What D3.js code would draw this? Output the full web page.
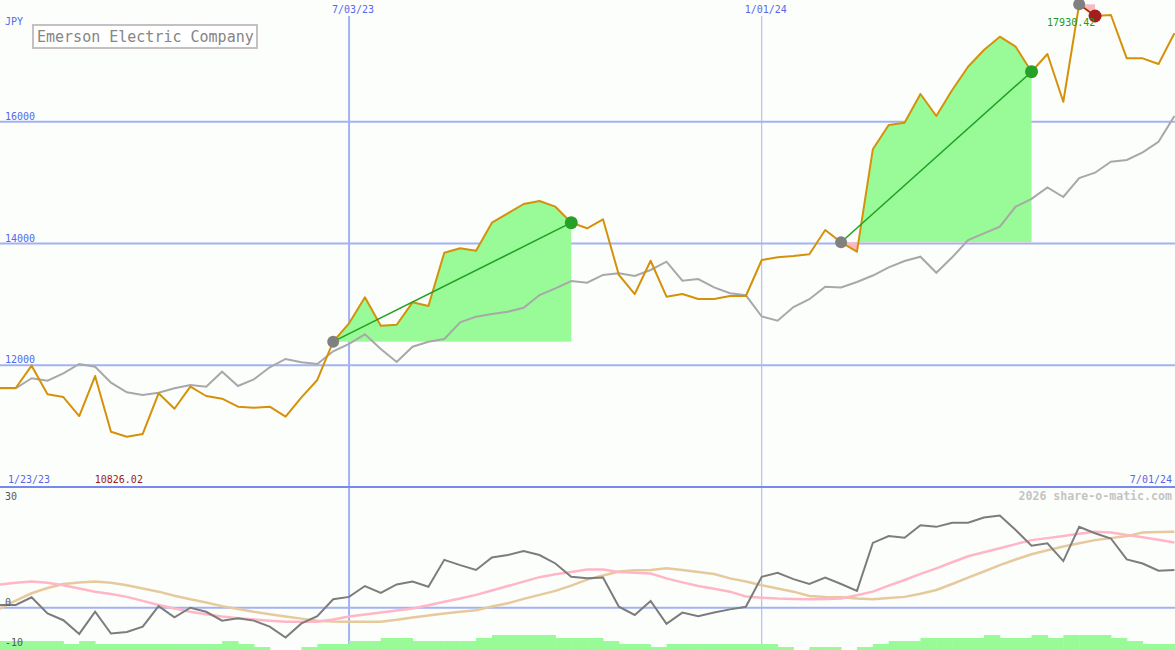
<!DOCTYPE html>
<html>
<head>
<meta charset="utf-8">
<script src="https://cdn.jsdelivr.net/npm/d3@7"></script>
<style>
  html, body { margin: 0; padding: 0; background: #fcfefc; }
  svg { display: block; }
  text { font-family: "DejaVu Sans Mono", "Liberation Mono", monospace; }
</style>
</head>
<body>
<div id="chart"></div>
<script>
// weekly closes, 1/23/23 .. 7/01/24
const startDate = new Date(2023, 0, 23);
const endDate = new Date(2024, 6, 1);
const gridDates = [new Date(2023, 6, 3), new Date(2024, 0, 1)];
const priceTicks = [12000, 14000, 16000];
const lowerTicks = [30, 0, -10];

const price = [
  11626, 11626, 11626, 11993, 11523, 11478, 11166, 11823, 10908, 10826.02,
  10871, 11539, 11286, 11648, 11495, 11451, 11319, 11303, 11319, 11155,
  11473, 11758, 12387, 12689, 13116, 12650, 12666, 13034, 12973, 13849,
  13921, 13882, 14342, 14496, 14649, 14698, 14605, 14342, 14250, 14398,
  13483, 13170, 13717, 13126, 13170, 13088, 13088, 13138, 13138, 13729,
  13773, 13795, 13823, 14222, 14020, 13865, 15547, 15947, 15984, 16456,
  16094, 16522, 16904, 17179, 17397, 17233, 16822, 17113, 16329, 17930.42,
  17737, 17754, 17042, 17042, 16949, 17453
];

const average = [
  11621, 11621, 11621, 11786, 11746, 11868, 12021, 11976, 11713, 11556,
  11511, 11549, 11621, 11676, 11648, 11894, 11659, 11769, 11966, 12103,
  12048, 12021, 12230, 12350, 12508, 12267, 12053, 12305, 12387, 12431,
  12706, 12798, 12842, 12880, 12945, 13154, 13264, 13384, 13356, 13483,
  13510, 13466, 13565, 13701, 13389, 13417, 13280, 13182, 13149, 12801,
  12732, 12957, 13085, 13290, 13277, 13368, 13474, 13609, 13713, 13783,
  13520, 13773, 14058, 14167, 14276, 14605, 14734, 14920, 14764, 15076,
  15163, 15344, 15372, 15498, 15672, 16095
];

const momentum = [
  0.7, 0.7, 0.7, 2.6, -1.4, -3.1, -6.5, -1.0, -6.4, -6.0,
  -4.7, 0.4, -2.4, 0, -1.0, -3.2, -2.6, -3.2, -4.7, -7.4,
  -3.9, -2.1, 2.1, 2.7, 5.4, 3.7, 5.8, 6.5, 5.2, 11.9,
  10.6, 9.4, 12.5, 13.1, 14.1, 13.1, 11.0, 7.7, 7.3, 7.5,
  0.25, -1.8, 1.7, -4.0, -1.2, -2.1, -1.2, -0.4, 0.25, 7.7,
  8.7, 7.1, 5.9, 7.5, 5.9, 4.2, 16.1, 17.8, 17.4, 20.5,
  20.1, 21.1, 21.1, 22.4, 22.9, 19.3, 15.4, 16.0, 11.6, 20.1,
  18.5, 17.2, 12.0, 11.0, 9.2, 9.4
];

const fastLine = [
  5.6, 5.8, 6.2, 6.5, 6.2, 5.6, 4.8, 4.0, 3.4, 2.7,
  1.7, 0.7, -0.2, -1.0, -1.6, -2.2, -2.6, -2.9, -3.2, -3.5,
  -3.5, -3.5, -2.9, -2.2, -1.7, -1.2, -0.7, -0.2, 0.6, 1.5,
  2.3, 3.2, 4.3, 5.4, 6.5, 7.6, 8.3, 8.9, 9.5, 9.5,
  8.9, 8.7, 8.5, 7.3, 6.3, 5.4, 4.7, 4.0, 2.8, 2.5,
  2.3, 2.2, 2.1, 2.2, 2.3, 3.1, 4.0, 5.5, 6.9, 8.4,
  9.8, 11.3, 12.8, 13.8, 14.8, 15.8, 16.8, 17.3, 17.8, 18.4,
  18.9, 18.7, 18.1, 17.5, 16.9, 16.2
];

const slowLine = [
  -1.5, -0.2, 1.8, 3.6, 4.9, 5.9, 6.3, 6.5, 6.2, 5.6,
  4.8, 4.0, 3.0, 2.1, 1.3, 0.4, -0.3, -1.0, -1.6, -2.2,
  -2.7, -3.2, -3.4, -3.5, -3.5, -3.5, -3.0, -2.4, -1.9, -1.4,
  -1.0, -0.6, 0.3, 1.1, 2.2, 3.2, 4.2, 5.5, 7.0, 8.0,
  9.0, 9.3, 9.4, 9.8, 9.4, 8.9, 8.4, 7.3, 6.5, 5.6,
  4.8, 4.0, 2.9, 2.7, 2.6, 2.3, 2.1, 2.4, 2.7, 3.5,
  4.4, 5.9, 7.5, 9.0, 10.6, 12.0, 13.3, 14.3, 15.2, 16.0,
  16.8, 17.3, 17.8, 18.7, 18.8, 18.9
];

// volume-ish strength bars, 0..5
const volume = [
  3, 3, 3, 3, 3, 2, 3, 2, 2, 2,
  2, 2, 2, 2, 2, 3, 2, 1, 0, 0,
  1, 2, 2, 3, 3, 4, 4, 3, 3, 3,
  3, 4, 5, 5, 5, 5, 4, 4, 4, 3,
  2, 2, 1, 2, 2, 2, 2, 2, 2, 2,
  1, 0, 1, 1, 0, 1, 2, 3, 3, 4,
  4, 4, 4, 5, 4, 4, 5, 4, 5, 5,
  5, 4, 3, 2, 2, 2
];

// entry index, exit index
const trades = [[22, 37], [54, 66], [69, 70]];

const W = 1175, H = 650;
const dates = d3.timeMonday.range(startDate, d3.timeDay.offset(endDate, 1));

const svg = d3.select("#chart").append("svg")
  .attr("width", W).attr("height", H);
svg.append("rect").attr("width", W).attr("height", H).attr("fill", "#fcfefc");
const defs = svg.append("defs");

const x = d3.scaleTime().domain([startDate, endDate]).range([-16, 1174.4]);
const y = d3.scaleLinear().domain([10000, 18000]).range([487, 0]);
const yl = d3.scaleLinear().domain([-10, 30]).range([648, 487]);
const yv = d3.scaleLinear().domain([0, 5]).range([650, 635]);
const step = x(dates[1]) - x(dates[0]);

const gridColor = "#a4b2f2";
const blue = "#5568ea";

// grid
svg.append("g").selectAll("line").data(priceTicks).join("line")
  .attr("x1", 0).attr("x2", W)
  .attr("y1", d => y(d)).attr("y2", d => y(d))
  .attr("stroke", gridColor).attr("stroke-width", 2);

svg.append("g").selectAll("line").data(gridDates).join("line")
  .attr("x1", d => x(d)).attr("x2", d => x(d))
  .attr("y1", 16).attr("y2", H)
  .attr("stroke", gridColor).attr("stroke-width", (d, i) => i == 0 ? 2 : 1);

svg.append("line")
  .attr("x1", 0).attr("x2", W).attr("y1", yl(0)).attr("y2", yl(0))
  .attr("stroke", gridColor).attr("stroke-width", 2);

svg.append("line")
  .attr("x1", 0).attr("x2", W).attr("y1", 487).attr("y2", 487)
  .attr("stroke", "#7888ec").attr("stroke-width", 2);

// trade fills: green above entry, pink below
trades.forEach((t, k) => {
  const seg = d3.range(t[0], t[1] + 1);
  const base = y(price[t[0]]);
  const area = d3.area()
    .x(i => x(dates[i]))
    .y0(base)
    .y1(i => y(price[i]));
  defs.append("clipPath").attr("id", "up" + k).append("rect")
    .attr("x", 0).attr("y", -20).attr("width", W).attr("height", base + 20);
  defs.append("clipPath").attr("id", "dn" + k).append("rect")
    .attr("x", 0).attr("y", base).attr("width", W).attr("height", 487 - base);
  svg.append("path").datum(seg).attr("d", area)
    .attr("fill", "#98fb98").attr("clip-path", "url(#up" + k + ")");
  svg.append("path").datum(seg).attr("d", area)
    .attr("fill", "#ffb6c1").attr("clip-path", "url(#dn" + k + ")");
});

const line = d3.line().x((d, i) => x(dates[i]));

svg.append("path").datum(average)
  .attr("d", line.y(d => y(d)))
  .attr("fill", "none").attr("stroke", "#a8a8a8").attr("stroke-width", 2);

svg.append("path").datum(price)
  .attr("d", line.y(d => y(d)))
  .attr("fill", "none").attr("stroke", "#d5910a").attr("stroke-width", 2)
  .attr("stroke-linejoin", "round");

// trade lines and markers
trades.forEach(t => {
  const win = price[t[1]] >= price[t[0]];
  svg.append("line")
    .attr("x1", x(dates[t[0]])).attr("y1", y(price[t[0]]))
    .attr("x2", x(dates[t[1]])).attr("y2", y(price[t[1]]))
    .attr("stroke", win ? "#20a020" : "#a01c1c").attr("stroke-width", 1.5);
});
trades.forEach(t => {
  const win = price[t[1]] >= price[t[0]];
  svg.append("circle")
    .attr("cx", x(dates[t[0]])).attr("cy", y(price[t[0]])).attr("r", 6)
    .attr("fill", "#808080");
  svg.append("circle")
    .attr("cx", x(dates[t[1]])).attr("cy", y(price[t[1]])).attr("r", 6.5)
    .attr("fill", win ? "#26a026" : "#a41e1e");
});

// lower panel
svg.append("g").selectAll("rect").data(volume).join("rect")
  .attr("x", (d, i) => x(dates[i]))
  .attr("width", step + 0.5)
  .attr("y", d => yv(d))
  .attr("height", d => H - yv(d))
  .attr("fill", "#98fb98");

svg.append("path").datum(slowLine)
  .attr("d", line.y(d => yl(d)))
  .attr("fill", "none").attr("stroke", "#e6c99c").attr("stroke-width", 2.5);

svg.append("path").datum(fastLine)
  .attr("d", line.y(d => yl(d)))
  .attr("fill", "none").attr("stroke", "#ffb6c6").attr("stroke-width", 2.5);

svg.append("path").datum(momentum)
  .attr("d", line.y(d => yl(d)))
  .attr("fill", "none").attr("stroke", "#7c7c7c").attr("stroke-width", 2);

// labels
svg.append("text").attr("x", 5).attr("y", 25).attr("font-size", 10)
  .attr("fill", blue).text("JPY");

svg.append("g").selectAll("text").data(priceTicks).join("text")
  .attr("x", 5).attr("y", d => y(d) - 2).attr("font-size", 10)
  .attr("fill", blue).text(d => d);

svg.append("g").selectAll("text").data(gridDates).join("text")
  .attr("x", d => x(d) + 4).attr("y", 13).attr("font-size", 10)
  .attr("text-anchor", "middle").attr("fill", blue)
  .text(d => d3.timeFormat("%-m/%d/%y")(d));

svg.append("text").attr("x", 8).attr("y", 483).attr("font-size", 10)
  .attr("fill", blue).text(d3.timeFormat("%-m/%d/%y")(startDate));
svg.append("text").attr("x", 1172).attr("y", 483).attr("font-size", 10)
  .attr("text-anchor", "end").attr("fill", blue)
  .text(d3.timeFormat("%-m/%d/%y")(endDate));

svg.append("g").selectAll("text").data(lowerTicks).join("text")
  .attr("x", 5).attr("y", d => d == 30 ? 500 : yl(d) - 2).attr("font-size", 10)
  .attr("fill", "#585858").text(d => d);

svg.append("text").attr("x", 1172).attr("y", 500)
  .attr("font-size", 11.6).attr("font-weight", "bold")
  .attr("text-anchor", "end").attr("fill", "#c4c4c4")
  .text("2026 share-o-matic.com");

const iMax = d3.maxIndex(price), iMin = d3.minIndex(price);
svg.append("text").attr("x", x(dates[iMax]) - 8).attr("y", y(price[iMax]) + 22)
  .attr("font-size", 10).attr("text-anchor", "middle").attr("fill", "#229a22")
  .text(price[iMax].toFixed(2));
svg.append("text").attr("x", x(dates[iMin]) - 8).attr("y", 483)
  .attr("font-size", 10).attr("text-anchor", "middle").attr("fill", "#a01818")
  .text(price[iMin].toFixed(2));

// title box
svg.append("rect").attr("x", 33).attr("y", 25).attr("width", 224).attr("height", 23)
  .attr("fill", "#ffffff").attr("stroke", "#c4c0c4").attr("stroke-width", 2);
svg.append("text").attr("x", 37).attr("y", 42).attr("font-size", 15)
  .attr("fill", "#858585").text("Emerson Electric Company");
</script>
</body>
</html>
